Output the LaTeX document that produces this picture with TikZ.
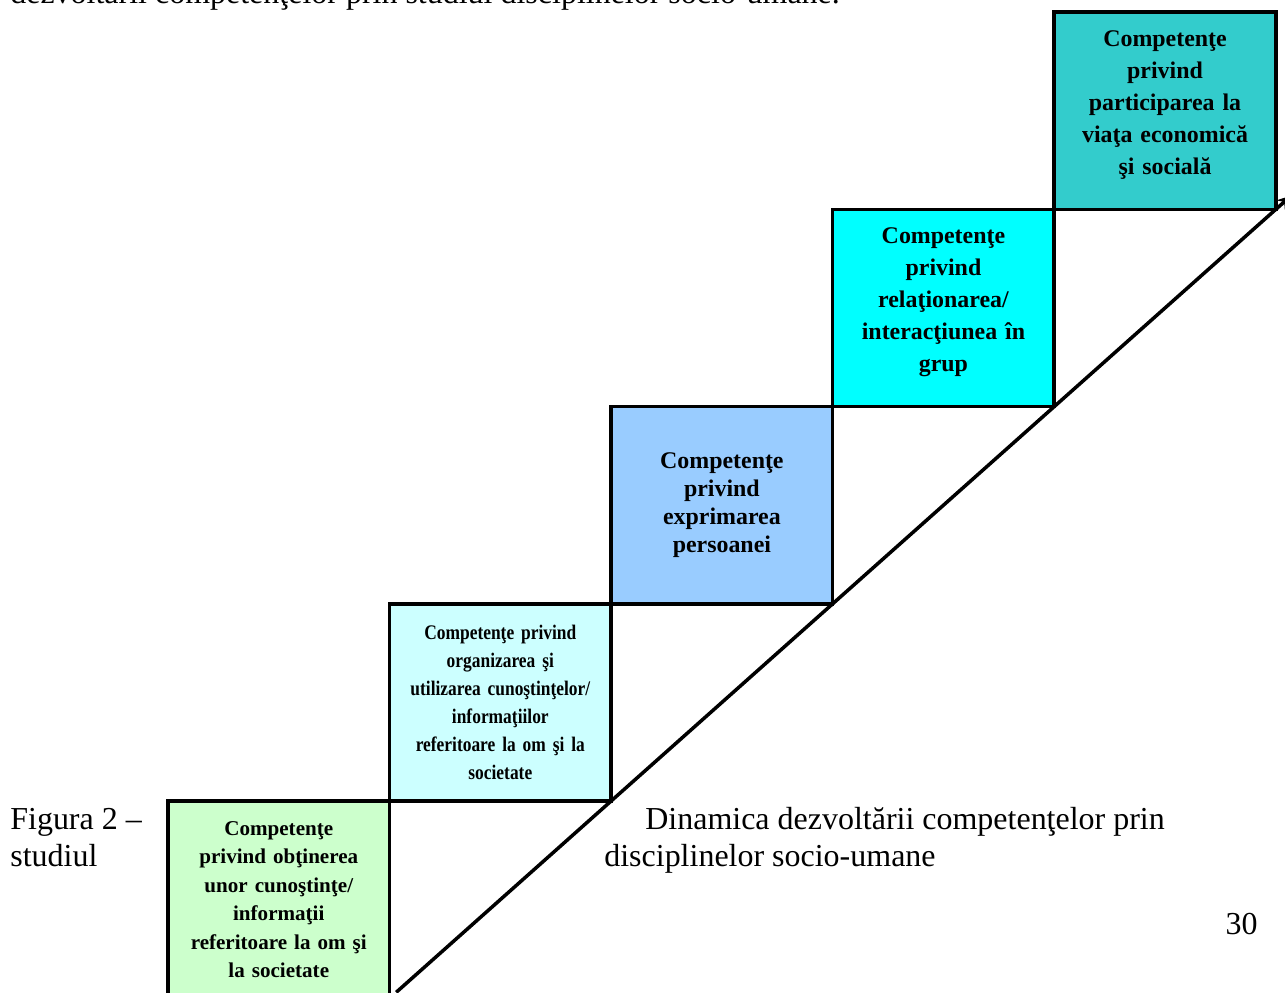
\documentclass[tikz,border=0pt]{standalone}
\usepackage{fontspec}
\setmainfont{Liberation Serif}
\newfontfamily\narrowbf{Liberation Serif}[FakeStretch=0.84]
\usepackage{tikz}
\usetikzlibrary{arrows.meta, calc, positioning}
\usepackage{xcolor}
\definecolor{stepgreen}{HTML}{CCFFCC}
\definecolor{steplight}{HTML}{CCFFFF}
\definecolor{stepblue}{HTML}{99CCFF}
\definecolor{stepcyan}{HTML}{00FFFF}
\definecolor{stepteal}{HTML}{33CCCC}
\newcommand\narrowsetup{\narrowbf\bfseries\fontsize{11.8}{15.9}\selectfont\fontdimen2\font=1.9pt\relax}

\begin{document}
\begin{tikzpicture}[x=0.02cm, y=-0.02cm, node distance=0pt,
  stepbox/.style={draw, line width=2pt, outer sep=0pt, inner sep=2pt,
    minimum width=4.432cm, minimum height=3.945cm, align=center, text width=4.1cm},
  bigtext/.style={font=\bfseries\fontsize{13.6}{18.1}\selectfont,
    execute at end node={\endgraf\vspace{6.5pt}}},
  midtext/.style={font=\bfseries\fontsize{13.6}{15.9}\selectfont},
  smalltext/.style={font=\bfseries\fontsize{12}{16.2}\selectfont},
  narrowtext/.style={font=\narrowsetup},
  bodytext/.style={font=\fontsize{18.2}{21}\selectfont, inner sep=0pt}]
\useasboundingbox (0,0) rectangle (1285,992);

\node (s1) [stepbox, smalltext, fill=stepgreen, anchor=north west] at (168,801)
  {Competenţe\\privind obţinerea\\unor cunoştinţe/\\informaţii\\referitoare la om şi\\la societate};
\node (s2) [stepbox, narrowtext, fill=steplight, above right=of s1]
  {Competenţe privind\\organizarea şi\\utilizarea cunoştinţelor/\\informaţiilor\\referitoare la om şi la\\societate};
\node (s3) [stepbox, midtext, fill=stepblue, above right=of s2]
  {Competenţe\\privind\\exprimarea\\persoanei};
\node (s4) [stepbox, bigtext, fill=stepcyan, above right=of s3]
  {Competenţe\\privind\\relaţionarea/\\interacţiunea în\\grup};
\node (s5) [stepbox, bigtext, fill=stepteal, above right=of s4]
  {Competenţe\\privind\\participarea la\\viaţa economică\\şi socială};

\coordinate (foot) at ($(s2.south east)!-0.97!(s3.south east)$);
\coordinate (tip) at ($(s5.south east)!-0.07!(s4.south east)$);
\draw[line width=2pt, -{Stealth[length=8pt, width=7pt]}] (foot) -- (tip);

\node (toptext) [bodytext, anchor=base west] at (10,3)
  {dezvoltării competenţelor prin studiul disciplinelor socio-umane.};
\node (figlabel) [bodytext, anchor=base west, align=left] at (10,866)
  {Figura 2 –\\studiul};
\node (caption) [bodytext, anchor=base west, align=left] at (604,866)
  {\hspace*{0.82cm}Dinamica dezvoltării competenţelor prin\\disciplinelor socio-umane};
\node (pagenum) [bodytext, anchor=base east] at (1258,934) {30};
\end{tikzpicture}
\end{document}
